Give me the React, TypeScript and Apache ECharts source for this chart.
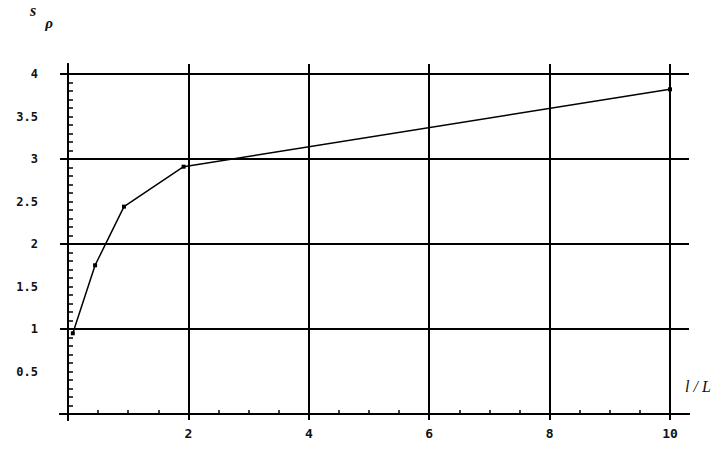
import React, { useEffect, useRef } from "react";
import * as echarts from "echarts";

// Data
const xValues = [0.08, 0.45, 0.93, 1.92, 10];
const yValues = [0.95, 1.75, 2.44, 2.91, 3.82];

// Tick / label values
const xMajor = [2, 4, 6, 8, 10];
const xMinor = [0.5, 1, 1.5, 2.5, 3, 3.5, 4.5, 5, 5.5, 6.5, 7, 7.5, 8.5, 9, 9.5];
const yLabels = [0.5, 1, 1.5, 2, 2.5, 3, 3.5, 4];
const yMajor = [1, 2, 3, 4];
const yMinor: number[] = [];
for (let i = 1; i <= 40; i++) yMinor.push(i / 10);

export default function App() {
  const ref = useRef<HTMLDivElement>(null);
  useEffect(() => {
    if (!ref.current) return;
    const chart = echarts.init(ref.current, undefined, { renderer: "svg" });
    const lineStyle = { color: "#000", width: 2 };
    const labelFont = {
      fontFamily: "DejaVu Sans Mono",
      fontWeight: "bold" as const,
      fontSize: 12,
      color: "#111",
    };
    chart.setOption({
      animation: false,
      backgroundColor: "#fff",
      grid: {
        left: 60,
        right: 36,
        top: 64,
        bottom: 31,
        containLabel: false,
        outerBoundsMode: "none",
      },
      xAxis: [
        {
          type: "value",
          min: -0.133,
          max: 10.316,
          name: "{a|l / L}",
          nameLocation: "end",
          nameGap: -4,
          nameTextStyle: {
            verticalAlign: "bottom",
            rich: {
              a: {
                fontFamily: "Liberation Serif",
                fontStyle: "italic",
                fontSize: 16,
                color: "#111",
                padding: [0, 0, 20, 0],
              },
            },
          },
          axisLine: { show: true, onZero: true, lineStyle },
          axisTick: { show: false, customValues: xMajor },
          axisLabel: { customValues: xMajor, margin: 7, ...labelFont, fontSize: 13 },
          splitLine: { show: true, lineStyle },
        },
        {
          type: "value",
          min: -0.133,
          max: 10.316,
          position: "bottom",
          axisLine: { show: true, onZero: true, lineStyle },
          axisTick: {
            show: true,
            inside: true,
            length: 4,
            customValues: xMinor,
            lineStyle: { color: "#000", width: 1.5 },
          },
          axisLabel: { show: false },
          splitLine: { show: false },
        },
      ],
      yAxis: [
        {
          type: "value",
          min: -0.07,
          max: 4.118,
          name: "{s|s}{p|ρ}",
          nameLocation: "end",
          nameGap: 34,
          nameTextStyle: {
            align: "right",
            padding: [0, 15, 0, 0],
            rich: {
              s: {
                fontFamily: "Liberation Serif",
                fontStyle: "italic",
                fontWeight: "bold",
                fontSize: 16,
                color: "#111",
                lineHeight: 28,
                verticalAlign: "top",
                padding: [0, 9, 0, 0],
              },
              p: {
                fontFamily: "Liberation Serif",
                fontStyle: "italic",
                fontWeight: "bold",
                fontSize: 15,
                color: "#111",
                lineHeight: 28,
                verticalAlign: "bottom",
              },
            },
          },
          axisLine: { show: true, onZero: true, lineStyle },
          axisTick: { show: false, customValues: yMajor },
          axisLabel: { customValues: yLabels, margin: 22, ...labelFont },
          splitLine: { show: true, lineStyle },
        },
        {
          type: "value",
          min: -0.07,
          max: 4.118,
          position: "left",
          axisLine: { show: true, onZero: true, lineStyle },
          axisTick: {
            show: true,
            inside: true,
            length: 5,
            customValues: yMinor,
            lineStyle: { color: "#000", width: 1.5 },
          },
          axisLabel: { show: false },
          splitLine: { show: false },
        },
      ],
      series: [
        {
          type: "line",
          data: xValues.map((x, i) => [x, yValues[i]]),
          symbol: "rect",
          symbolSize: 4,
          itemStyle: { color: "#000" },
          lineStyle: { color: "#000", width: 1.5 },
        },
      ],
    });
    return () => chart.dispose();
  }, []);
  return <div ref={ref} style={{ width: 725, height: 451, position: "absolute", left: 0, top: 0 }} />;
}
